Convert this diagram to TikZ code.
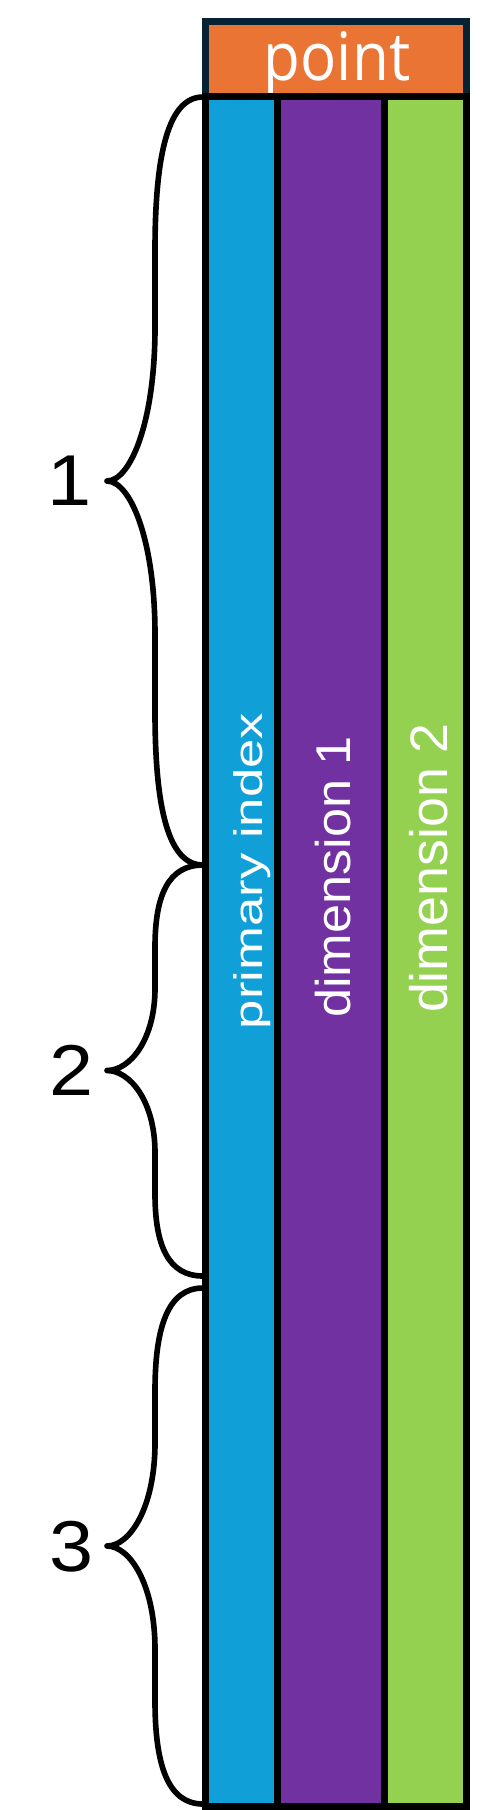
\documentclass[tikz,border=0pt]{standalone}
\usepackage{fontspec}
\usepackage{graphicx}
\setmainfont{Liberation Sans}
\newfontfamily\pointfont{Open Sans}
\definecolor{hdrnavy}{HTML}{062233}
\definecolor{hdrorange}{HTML}{EA7434}
\definecolor{colblue}{HTML}{10A0D7}
\definecolor{colpurple}{HTML}{7131A0}
\definecolor{colgreen}{HTML}{94D150}
\tikzset{
  colborder/.style={draw=black, line width=3.97pt},
  bracestyle/.style={draw=black, line width=3.2pt, line join=round, line cap=round},
  collabel/.style={text=white, inner sep=0pt, rotate=90, anchor=base},
  numlabel/.style={text=black, inner sep=0pt, font=\fontsize{41}{41}\selectfont},
}
\newcommand\drawbrace[2]{%
  \pgfmathsetmacro\brA{#1}\pgfmathsetmacro\brB{#2}%
  \pgfmathsetmacro\brL{(\brB-\brA)/2}\pgfmathsetmacro\brM{(\brA+\brB)/2}%
  \draw[bracestyle] (203,\brA) .. controls (168,\brA) and (155,\brA+0.15*\brL) .. (155,\brA+0.4*\brL)
    -- (155,\brA+0.6*\brL) .. controls (155,\brA+0.85*\brL) and (130,\brM) .. (107,\brM)
    .. controls (130,\brM) and (155,\brB-0.85*\brL) .. (155,\brB-0.6*\brL)
    -- (155,\brB-0.4*\brL) .. controls (155,\brB-0.15*\brL) and (168,\brB) .. (203,\brB);}
\begin{document}
\begin{tikzpicture}[x=0.02cm, y=-0.02cm]
\useasboundingbox (0,0) rectangle (493,1810);
% header
\path[fill=hdrorange, draw=hdrnavy, line width=3.97pt] (205.5,21.5) rectangle (466.5,96.5);
\node[text=white, inner sep=0pt, anchor=base] (point) at (337,80)
  {\scalebox{0.9}[1]{\pointfont\fontsize{38}{38}\selectfont point}};
% columns
\fill[colblue] (205.5,96.5) rectangle (277.5,1806.5);
\fill[colpurple] (277.5,96.5) rectangle (384.5,1806.5);
\fill[colgreen] (384.5,96.5) rectangle (466.5,1806.5);
\draw[colborder] (205.5,96.5) rectangle (466.5,1806.5);
\draw[colborder] (277.5,96.5) -- (277.5,1806.5);
\draw[colborder] (384.5,96.5) -- (384.5,1806.5);
\node[collabel] (pidx) at (262,871)
  {\scalebox{1.32}[1]{\fontsize{22.7}{22.7}\selectfont primary index}};
\node[collabel] (dim1) at (350,877)
  {\scalebox{1.07}[1]{\fontsize{27.8}{27.8}\selectfont dimension 1}};
\node[collabel] (dim2) at (447,868)
  {\scalebox{1.02}[1]{\fontsize{30}{30}\selectfont dimension 2}};
% braces
\drawbrace{97}{865}
\drawbrace{865}{1276}
\drawbrace{1288}{1804}
\node[numlabel] (n1) at (70,481) {\scalebox{1.1}[1]{1}};
\node[numlabel] (n2) at (72,1070) {\scalebox{1.1}[1]{2}};
\node[numlabel] (n3) at (72,1547) {\scalebox{1.1}[1]{3}};
\end{tikzpicture}
\end{document}
